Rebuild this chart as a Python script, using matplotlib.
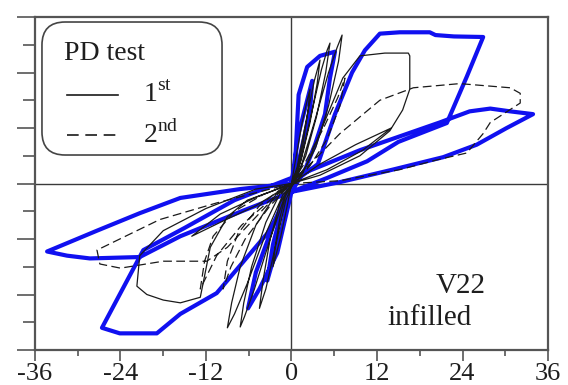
import numpy as np
import matplotlib
matplotlib.use("Agg")
import matplotlib.pyplot as plt
from matplotlib.patches import FancyBboxPatch

plt.rcParams['font.family'] = ['Liberation Serif', 'DejaVu Serif']
plt.rcParams['mathtext.fontset'] = 'custom'
plt.rcParams['mathtext.rm'] = 'Liberation Serif'

# drift (x) vs. load (y, one unit per tick)
xticks = [-36, -24, -12, 0, 12, 24, 36]
xtick_labels = ['-36', '-24', '-12', '0', '12', '24', '36']

# blue: retrofitted specimen response
blue_x = [0, 1.0, 2.9, 2.6, 1.2, 0, -1.2, -3.4, -2.6, -1.0, 0,
          0.5, 1.0, 2.2, 4.0, 6.1, 5.4, 4.7, 3.3, 1.9, 0, -2.0, -4.5, -6.1, -5.0, -3.0, -1.0, 0,
          3.7, 6.1, 8.5, 10.3, 12.4, 15.2, 19.4, 20.2, 22.8, 26.9, 24.6, 21.8, 15.0, 10.6, 5.0, 0,
          -3.4, -10.5, -15.6, -18.9, -24.1, -26.6, -20.8, -15.0, -8.0, 0,
          9.6, 20.8, 25.0, 27.9, 30.7, 33.9, 30.2, 26.0, 21.3, 14.2, 6.8, 0,
          -7.0, -15.6, -21.3, -28.3, -31.5, -34.3, -27.3, -21.3, -15.6, -7.2, 0]
blue_y = [0, 1.8, 3.7, 2.6, 1.0, 0, -1.5, -3.5, -2.2, -0.6, 0,
          0.7, 3.2, 4.2, 4.6, 4.75, 3.8, 2.5, 1.4, 0.5, -0.3, -2.5, -3.8, -4.5, -3.2, -1.8, -0.5, 0,
          0.7, 2.5, 4.0, 4.8, 5.4, 5.45, 5.45, 5.35, 5.3, 5.28, 3.85, 2.18, 1.5, 0.8, 0.2, -0.3,
          -1.8, -3.95, -4.7, -5.4, -5.4, -5.2, -2.4, -1.6, -0.6, 0.2,
          1.2, 2.2, 2.6, 2.7, 2.6, 2.5, 2.0, 1.4, 0.95, 0.5, 0.05, -0.3,
          -1.0, -1.9, -2.65, -2.7, -2.6, -2.45, -1.7, -1.07, -0.52, -0.2, 0]

# black solid: 1st PD test
first_x = [0, 0.6, 1.5, 2.2, 2.6, 2.3, 1.6, 0.8, 0,
           -0.6, -1.5, -2.2, -2.6, -2.3, -1.6, -0.8, 0,
           0.8, 2.0, 3.2, 4.0, 3.6, 2.6, 1.4, 0.2,
           -0.8, -2.2, -3.6, -4.5, -4.0, -3.0, -1.6, 0,
           1.0, 2.6, 4.2, 5.0, 5.4, 4.8, 3.5, 2.0, 0.5,
           -1.0, -3.0, -5.2, -6.6, -7.2, -6.7, -5.6, -3.6, -1.5, 0,
           1.2, 3.2, 5.2, 6.4, 7.1, 6.6, 5.2, 3.4, 1.2,
           -1.2, -3.6, -6.2, -8.0, -9.0, -8.4, -7.2, -5.0, -2.2, 0,
           4.0, 9.0, 14.0, 10.0, 5.0, 0, -5.0, -10.0, -14.0, -10.0, -5.0, 0,
           2.0, 4.6, 7.2, 9.6, 13.1, 16.4, 16.6, 16.6, 15.6, 13.8, 9.6, 4.0, 0,
           -3.0, -6.2, -9.0, -11.4, -12.8, -15.6, -18.0, -20.3, -21.7, -21.3, -18.0, -12.0, -5.0, 0]
first_y = [0, 0.9, 2.2, 3.0, 3.4, 2.6, 1.4, 0.5, 0,
           -0.8, -1.9, -2.6, -3.0, -2.3, -1.2, -0.4, 0,
           0.6, 2.2, 3.7, 4.45, 3.6, 2.2, 0.9, 0,
           -0.6, -2.2, -3.8, -4.5, -3.5, -2.0, -0.7, 0,
           0.5, 2.3, 4.1, 4.8, 5.06, 4.0, 2.4, 1.0, 0.1,
           -0.5, -2.0, -3.8, -4.8, -5.17, -4.3, -3.0, -1.4, -0.3, 0,
           0.5, 2.2, 4.0, 4.9, 5.35, 4.4, 2.8, 1.3, 0.2,
           -0.4, -1.8, -3.6, -4.7, -5.2, -4.3, -3.0, -1.5, -0.4, 0,
           0.7, 1.4, 2.0, 1.2, 0.5, 0, -0.8, -1.4, -1.9, -1.1, -0.5, 0,
           0.6, 2.2, 3.8, 4.6, 4.7, 4.7, 4.6, 3.4, 2.65, 1.9, 1.0, 0.3, 0,
           -0.3, -0.6, -1.2, -2.3, -4.1, -4.3, -4.2, -4.0, -3.7, -2.6, -1.7, -0.9, -0.2, 0]

# black dashed: 2nd PD test
second_x = [0, 2.0, 4.5, 6.5, 7.5, 6.8, 5.0, 2.5, 0,
            -3.0, -7.0, -10.5, -12.8, -12.2, -11.0, -8.0, -4.0, 0,
            -3.0, -6.5, -8.5, -9.6, -9.0, -7.5, -4.5, -1.5, 0,
            3.0, 6.8, 12.4, 17.1, 23.6, 30.7, 32.1, 32.1, 27.9, 26.9, 24.6, 20.4, 15.2, 6.8, 0,
            -3.5, -9.0, -11.9, -18.0, -24.0, -26.9, -27.3, -18.5, -10.5, 0]
second_y = [0, 0.8, 2.0, 3.1, 3.8, 2.8, 1.6, 0.6, 0,
            -0.6, -1.5, -2.6, -3.8, -2.8, -1.9, -1.0, -0.4, 0,
            -0.8, -2.0, -3.0, -3.8, -2.8, -1.8, -0.8, -0.2, 0,
            0.8, 1.8, 3.0, 3.45, 3.6, 3.45, 3.25, 2.9, 2.2, 1.8, 1.1, 0.85, 0.5, 0.1, 0,
            -0.8, -2.3, -2.8, -2.8, -3.05, -2.9, -2.4, -1.3, -0.7, 0]

fig = plt.figure(figsize=(5.68, 3.85), dpi=100)
ax = fig.add_axes([0.0616, 0.0909, 0.9032, 0.8649])

ax.axhline(0, color='#3a3a3a', lw=1.0, zorder=1)
ax.axvline(0, color='#3a3a3a', lw=1.0, zorder=1)

ax.plot(blue_x, blue_y, color='#1010f0', lw=3.0, zorder=2, solid_joinstyle='round')
ax.plot(first_x, first_y, color='#1a1a1a', lw=0.9, zorder=3)
ax.plot(second_x, second_y, color='#1a1a1a', lw=0.9, ls=(0, (7, 3.5)), zorder=3)

ax.set_xlim(-36, 36)
ax.set_ylim(-6, 6)
ax.set_xticks(xticks)
ax.set_xticklabels(xtick_labels)
ax.set_xticks(np.arange(-30, 36, 12), minor=True)
ax.set_yticks(np.arange(-6, 7, 2))
ax.set_yticks(np.arange(-5, 6, 2), minor=True)
ax.set_yticklabels([])
ax.tick_params(axis='x', which='major', direction='out', length=8, width=1.2,
               color='#555555', labelsize=19, pad=1, labelcolor='#1e1e1e')
ax.tick_params(axis='x', which='minor', direction='out', length=4, width=1.2, color='#555555')
ax.tick_params(axis='y', which='major', direction='out', length=13, width=1.2, color='#555555')
ax.tick_params(axis='y', which='minor', direction='out', length=9, width=1.2, color='#555555')
for s in ax.spines.values():
    s.set_color('#555555')
    s.set_linewidth(1.6)

# legend box drawn by hand
box = FancyBboxPatch((0.0136, 0.5856), 0.351, 0.3994, transform=ax.transAxes,
                     boxstyle='round,pad=0,rounding_size=0.045', mutation_aspect=1.54,
                     fc='white', ec='#444444', lw=1.2, zorder=5)
ax.add_patch(box)
ax.text(0.056, 0.889, 'PD test', transform=ax.transAxes, fontsize=20,
        va='center', ha='left', color='#1e1e1e', zorder=6)
ax.plot([0.0624, 0.162], [0.766, 0.766], transform=ax.transAxes, color='#1a1a1a',
        lw=1.2, zorder=6)
ax.plot([0.0624, 0.162], [0.646, 0.646], transform=ax.transAxes, color='#1a1a1a',
        lw=1.2, ls=(0, (7, 4)), zorder=6)
ax.text(0.210, 0.766, r'1$^{\rm st}$', transform=ax.transAxes, fontsize=20,
        va='center', ha='left', color='#1e1e1e', zorder=6)
ax.text(0.210, 0.646, r'2$^{\rm nd}$', transform=ax.transAxes, fontsize=20,
        va='center', ha='left', color='#1e1e1e', zorder=6)

ax.text(0.830, 0.192, 'V22', transform=ax.transAxes, fontsize=21,
        va='center', ha='center', color='#1e1e1e')
ax.text(0.770, 0.096, 'infilled', transform=ax.transAxes, fontsize=21,
        va='center', ha='center', color='#1e1e1e')

fig.savefig('out.png', dpi=100)
